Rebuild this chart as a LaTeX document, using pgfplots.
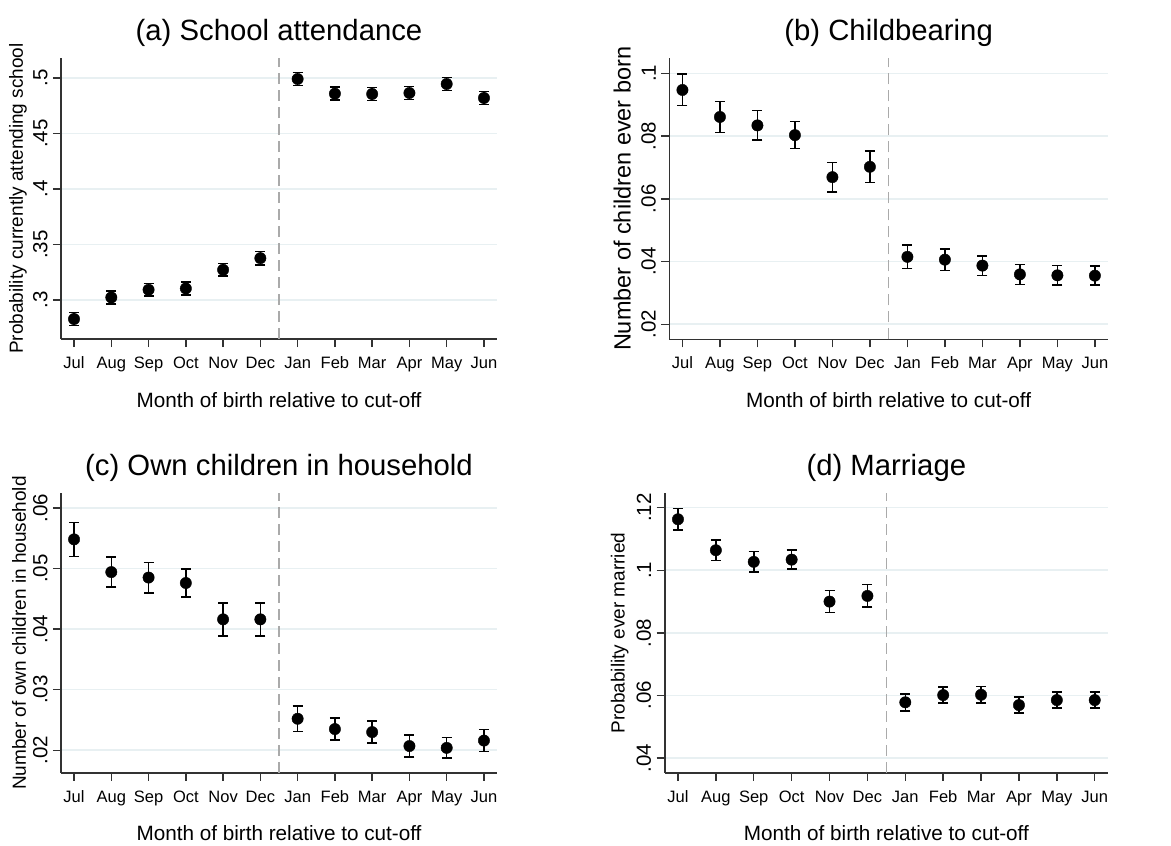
\documentclass[border=0pt]{standalone}
\usepackage{fontspec}
\setmainfont{Liberation Sans}
\usepackage{pgfplots}
\usepackage{pgfplotstable}
\pgfplotsset{compat=1.18}
\definecolor{gridc}{RGB}{232,240,242}
\definecolor{axc}{RGB}{50,50,50}
\definecolor{dashc}{RGB}{170,170,170}

\pgfplotstableread{
x y e
0 0.2830 0.0058
1 0.3024 0.0058
2 0.3093 0.0058
3 0.3105 0.0058
4 0.3273 0.0058
5 0.3378 0.0060
6 0.4991 0.0058
7 0.4859 0.0058
8 0.4856 0.0058
9 0.4865 0.0058
10 0.4946 0.0058
11 0.4820 0.0058
}\dataA
\pgfplotstableread{
x y e
0 0.0947 0.0050
1 0.0861 0.0049
2 0.0834 0.0047
3 0.0803 0.0043
4 0.0669 0.0047
5 0.0702 0.0050
6 0.0415 0.0037
7 0.0406 0.0034
8 0.0387 0.0031
9 0.0359 0.0032
10 0.0356 0.0031
11 0.0355 0.0030
}\dataB
\pgfplotstableread{
x y e
0 0.0548 0.0028
1 0.0494 0.0025
2 0.0485 0.0025
3 0.0476 0.0023
4 0.0416 0.0027
5 0.0416 0.0027
6 0.0252 0.0021
7 0.0235 0.0018
8 0.0230 0.0018
9 0.0207 0.0018
10 0.0204 0.0017
11 0.0216 0.0018
}\dataC
\pgfplotstableread{
x y e
0 0.1163 0.0035
1 0.1064 0.0033
2 0.1027 0.0033
3 0.1034 0.0030
4 0.0900 0.0035
5 0.0918 0.0036
6 0.0578 0.0027
7 0.0601 0.0026
8 0.0602 0.0027
9 0.0569 0.0026
10 0.0585 0.0026
11 0.0585 0.0026
}\dataD

\pgfplotsset{
  panel/.style={
    scale only axis,
    anchor=south west,
    axis x line=bottom, axis y line=left,
    axis line style={-, axc, line width=1.6pt},
    xmin=-0.35, xmax=11.35,
    xtick={0,...,11},
    xticklabels={Jul,Aug,Sep,Oct,Nov,Dec,Jan,Feb,Mar,Apr,May,Jun},
    scaled y ticks=false,
    tick align=outside,
    major tick length=8pt,
    tick style={axc, line width=1.4pt},
    xticklabel style={font=\fontsize{16.5}{18}\selectfont, text height=12pt, text depth=3.5pt, yshift=-6pt},
    yticklabel style={font=\fontsize{20.5}{22}\selectfont, rotate=90, anchor=south, yshift=2pt},
    ymajorgrids, grid style={gridc, line width=1.6pt},
    title style={font=\fontsize{29.3}{33}\selectfont, at={(axis description cs:0.5,1)}, anchor=base, yshift=12pt},
    xlabel style={font=\fontsize{20.7}{24}\selectfont, at={(axis description cs:0.5,0)}, anchor=base, yshift=-68pt},
    xlabel={Month of birth relative to cut-off},
    ylabel style={at={(axis description cs:0,0.5)}, anchor=center},
    clip=false,
  },
  pts/.style={only marks, mark=*, mark size=5.7pt, black,
    error bars/.cd, y dir=both, y explicit,
    error bar style={line width=1.6pt, black},
    error mark options={rotate=90, mark size=5pt, line width=1.6pt, black}},
}
\newcommand{\cutline}{\draw[dashc, line width=1.5pt, dash pattern=on 11pt off 6pt]
  (axis cs:5.5,\pgfkeysvalueof{/pgfplots/ymin}) -- (axis cs:5.5,\pgfkeysvalueof{/pgfplots/ymax});}

\begin{document}
\begin{tikzpicture}
\path[use as bounding box] (0,0) rectangle (1171pt,-846pt);

% (a)
\begin{axis}[panel, at={(61pt,-339pt)}, width=436pt, height=281pt,
  ymin=0.265, ymax=0.518,
  ytick={0.3,0.35,0.4,0.45,0.5}, yticklabels={.3,.35,.4,.45,.5},
  title={(a) School attendance},
  ylabel={Probability currently attending school},
  ylabel style={font=\fontsize{19}{22}\selectfont, yshift=43pt}]
\cutline
\addplot[pts] table[x=x, y=y, y error=e] {\dataA};
\end{axis}

% (b)
\begin{axis}[panel, at={(669.3pt,-339.3pt)}, width=438.7pt, height=281pt,
  ymin=0.0152, ymax=0.1048,
  ytick={0.02,0.04,0.06,0.08,0.1}, yticklabels={.02,.04,.06,.08,.1},
  title={(b) Childbearing},
  ylabel={Number of children ever born},
  ylabel style={font=\fontsize{23.5}{26}\selectfont, yshift=47pt}]
\cutline
\addplot[pts] table[x=x, y=y, y error=e] {\dataB};
\end{axis}

% (c)
\begin{axis}[panel, at={(61pt,-772.7pt)}, width=436pt, height=279.4pt,
  ymin=0.0163, ymax=0.0624,
  ytick={0.02,0.03,0.04,0.05,0.06}, yticklabels={.02,.03,.04,.05,.06},
  title={(c) Own children in household},
  ylabel={Number of own children in household},
  ylabel style={font=\fontsize{19}{22}\selectfont, yshift=42pt}]
\cutline
\addplot[pts] table[x=x, y=y, y error=e] {\dataC};
\end{axis}

% (d)
\begin{axis}[panel, at={(664.7pt,-772.7pt)}, width=443.3pt, height=279.4pt,
  ymin=0.0353, ymax=0.1246,
  ytick={0.04,0.06,0.08,0.1,0.12}, yticklabels={.04,.06,.08,.1,.12},
  title={(d) Marriage},
  ylabel={Probability ever married},
  ylabel style={font=\fontsize{19}{22}\selectfont, yshift=45pt}]
\cutline
\addplot[pts] table[x=x, y=y, y error=e] {\dataD};
\end{axis}
\end{tikzpicture}
\end{document}
